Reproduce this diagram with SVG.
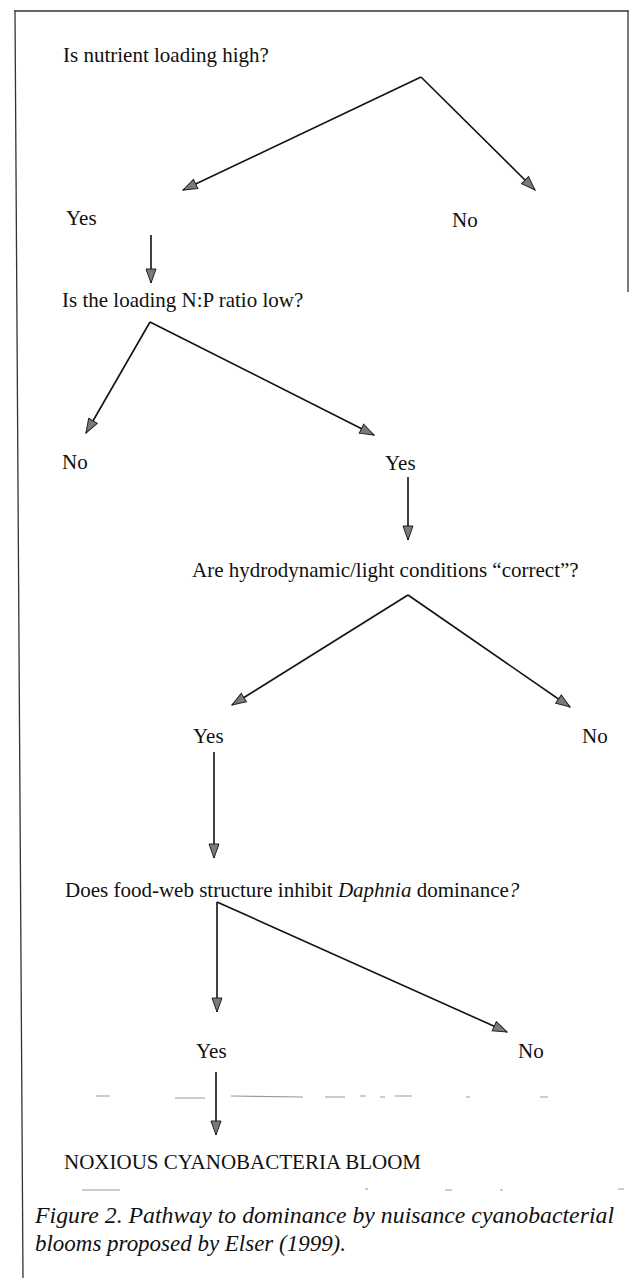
<svg xmlns="http://www.w3.org/2000/svg" width="629" height="1278" viewBox="0 0 629 1278">
<style>
.t{font-family:"Liberation Serif","Times New Roman",serif;font-size:21px;fill:#111}
.cap{font-family:"Liberation Serif","Times New Roman",serif;font-size:22.5px;font-style:italic;fill:#111}
.c{stroke:#111;stroke-width:1.6;fill:none;marker-end:url(#ah)}
.fr{stroke:#333;stroke-width:1.3;fill:none}
.noise{stroke:#999;stroke-width:1.2;fill:none}
</style>
<defs>
<marker id="ah" markerUnits="userSpaceOnUse" markerWidth="16" markerHeight="12" refX="15" refY="6" orient="auto">
<path d="M1,1 L15,6 L1,11 z" fill="#7a7a7a" stroke="#222" stroke-width="1"/>
</marker>
</defs>
<g id="frame">
<path class="fr" d="M14,11 L629,11"/>
<path class="fr" d="M628,11 L628,292"/>
<path class="fr" d="M15,11 L23,1278"/>
</g>
<g id="noise">
<path class="noise" d="M96,1096 L110,1096 M175,1098 L205,1098 M231,1096 L303,1097 M325,1097 L345,1097 M360,1096 L366,1096 M380,1097 L385,1097 M395,1096 L412,1096 M466,1097 L470,1097 M540,1097 L548,1097"/>
<path class="noise" d="M82,1190 L120,1190 M365,1189 L368,1189 M445,1190 L452,1190 M500,1190 L503,1190 M618,1189 L624,1189"/>
</g>
<g id="connectors">
<path class="c" d="M421,77 L183,190"/>
<path class="c" d="M421,77 L535,190"/>
<path class="c" d="M151,235 L151,283"/>
<path class="c" d="M150,322 L86,433"/>
<path class="c" d="M150,322 L374,435"/>
<path class="c" d="M408,477 L408,540"/>
<path class="c" d="M408,595 L232,705"/>
<path class="c" d="M408,595 L570,707"/>
<path class="c" d="M214,752 L214,858"/>
<path class="c" d="M217,902 L217,1012"/>
<path class="c" d="M217,902 L507,1032"/>
<path class="c" d="M216,1072 L216,1135"/>
</g>
<g id="q1"><text class="t" x="63" y="62">Is nutrient loading high?</text></g>
<g id="yes1"><text class="t" x="66" y="225">Yes</text></g>
<g id="no1"><text class="t" x="452" y="227">No</text></g>
<g id="q2"><text class="t" x="62" y="307">Is the loading N:P ratio low?</text></g>
<g id="no2"><text class="t" x="62" y="469">No</text></g>
<g id="yes2"><text class="t" x="385" y="470">Yes</text></g>
<g id="q3"><text class="t" x="192" y="577">Are hydrodynamic/light conditions “correct”?</text></g>
<g id="yes3"><text class="t" x="193" y="743">Yes</text></g>
<g id="no3"><text class="t" x="582" y="743">No</text></g>
<g id="q4"><text class="t" x="65" y="897">Does food-web structure inhibit <tspan font-style="italic">Daphnia</tspan> dominance<tspan font-style="italic">?</tspan></text></g>
<g id="yes4"><text class="t" x="196" y="1058">Yes</text></g>
<g id="no4"><text class="t" x="518" y="1058">No</text></g>
<g id="result"><text class="t" x="64" y="1169">NOXIOUS CYANOBACTERIA BLOOM</text></g>
<g id="caption">
<text class="cap" x="35" y="1223" textLength="579" lengthAdjust="spacingAndGlyphs">Figure 2. Pathway to dominance by nuisance cyanobacterial</text>
<text class="cap" x="35" y="1251" textLength="311" lengthAdjust="spacingAndGlyphs">blooms proposed by Elser (1999).</text>
</g>
</svg>
